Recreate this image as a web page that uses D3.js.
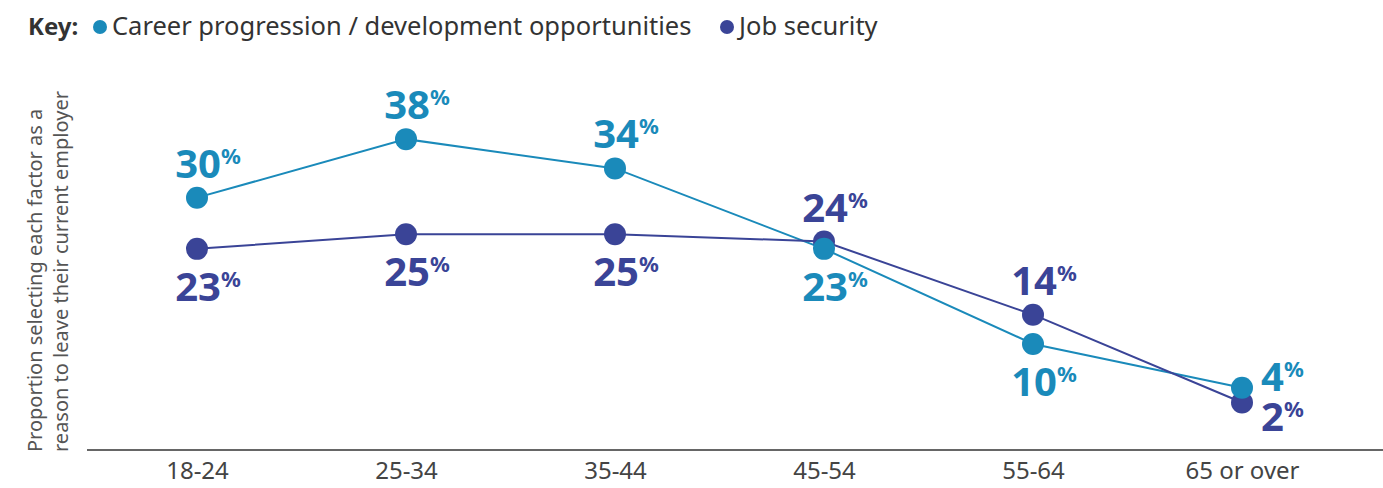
<!DOCTYPE html>
<html>
<head>
<meta charset="utf-8">
<script src="https://cdn.jsdelivr.net/npm/d3@7"></script>
<style>
  body { margin: 0; background: #fff; }
  svg { display: block; font-family: "Noto Sans", sans-serif; }
</style>
</head>
<body>
<svg width="1383" height="488"></svg>
<script>
var categories = ["18-24", "25-34", "35-44", "45-54", "55-64", "65 or over"];
var careerValues = [30, 38, 34, 23, 10, 4];
var securityValues = [23, 25, 25, 24, 14, 2];
var seriesNames = ["Career progression / development opportunities", "Job security"];
var seriesColors = ["#1a8aba", "#3a4497"];

var svg = d3.select("svg"),
    width = +svg.attr("width"),
    height = +svg.attr("height");

var series = [
  { name: seriesNames[0], color: seriesColors[0], values: careerValues },
  { name: seriesNames[1], color: seriesColors[1], values: securityValues }
];

// scales
var x = d3.scalePoint().domain(categories).range([197, 1242]);
var y = d3.scaleLinear().domain([-4.5, 48]).range([450, 66]);

// x axis (line runs wider than the points)
var xAxis = svg.append("g")
    .attr("transform", "translate(0," + y(-4.5) + ")")
    .call(d3.axisBottom(x).tickSize(0).tickPadding(12));
xAxis.select(".domain").remove();
xAxis.append("line")
    .attr("x1", 87).attr("x2", width)
    .attr("stroke", "#333").attr("stroke-width", 1.5);
xAxis.selectAll(".tick text")
    .attr("fill", "#444")
    .style("font-size", "24px")
    .style("font-family", "'Noto Sans', sans-serif");

// y axis title
var yTitle = svg.append("text")
    .attr("transform", "translate(42,452) rotate(-90)")
    .attr("fill", "#555")
    .style("font-size", "20px");
yTitle.append("tspan").attr("x", 0).attr("dy", 0).text("Proportion selecting each factor as a");
yTitle.append("tspan").attr("x", 0).attr("dy", 26).text("reason to leave their current employer");

// lines
var line = d3.line()
    .x(function(d, i) { return x(categories[i]); })
    .y(function(d) { return y(d); });

svg.selectAll(".series-line")
  .data(series)
  .enter().append("path")
    .attr("class", "series-line")
    .attr("fill", "none")
    .attr("stroke", function(d) { return d.color; })
    .attr("stroke-width", 2)
    .attr("d", function(d) { return line(d.values); });

// points: dark series first so the light one sits on top where they meet
series.slice().reverse().forEach(function(s) {
  svg.selectAll(null)
    .data(s.values)
    .enter().append("circle")
      .attr("cx", function(d, i) { return x(categories[i]); })
      .attr("cy", function(d) { return y(d); })
      .attr("r", 11)
      .attr("fill", s.color);
});

// value labels: higher value above, lower below, last category to the right
series.forEach(function(s, si) {
  var other = series[1 - si];
  s.values.forEach(function(v, i) {
    var cx = x(categories[i]), cy = y(v);
    var last = i === categories.length - 1;
    var above = v >= other.values[i];
    var t = svg.append("text")
        .attr("fill", s.color)
        .style("font-weight", 700);
    if (last) {
      t.attr("x", cx + 19)
       .attr("y", above ? cy + 3 : cy + 29)
       .attr("text-anchor", "start");
    } else {
      t.attr("x", cx + 11)
       .attr("y", above ? cy - 20 : cy + 52)
       .attr("text-anchor", "middle");
    }
    t.append("tspan").style("font-size", "40px").text(v);
    t.append("tspan").style("font-size", "22px").attr("dy", -14).text("%");
  });
});

// legend
var legend = svg.append("g").attr("transform", "translate(0,35)");
legend.append("text")
    .attr("x", 28).attr("y", 0)
    .attr("fill", "#333")
    .style("font-size", "24px").style("font-weight", 700)
    .text("Key:");
var lx = [100, 727];
series.forEach(function(s, i) {
  legend.append("circle")
      .attr("cx", lx[i]).attr("cy", -8)
      .attr("r", 7).attr("fill", s.color);
  legend.append("text")
      .attr("x", lx[i] + 12).attr("y", 0)
      .attr("fill", "#333")
      .style("font-size", "25.5px")
      .text(s.name);
});
</script>
</body>
</html>
